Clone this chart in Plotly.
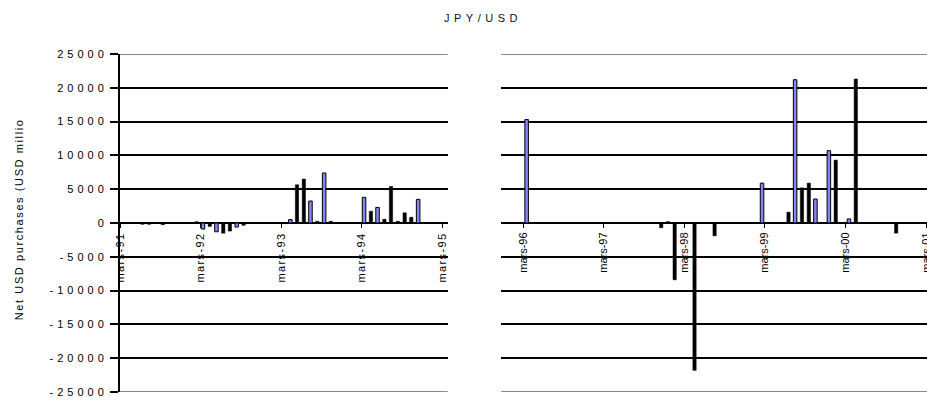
import plotly.graph_objects as go

# ---------------- data ----------------
# Period 1 : March 1991 - March 1995 (monthly net USD purchases, USD millions)
p1_months = ["1991-06", "1991-07", "1991-09", "1992-02", "1992-03", "1992-04",
             "1992-05", "1992-06", "1992-07", "1992-08", "1992-09",
             "1993-04", "1993-05", "1993-06", "1993-07", "1993-08", "1993-09", "1993-10",
             "1994-03", "1994-04", "1994-05", "1994-06", "1994-07", "1994-08",
             "1994-09", "1994-10", "1994-11"]
p1_values = [-200, -200, -250, 200, -900, -500,
             -1300, -1500, -1200, -600, -350,
             500, 5650, 6500, 3250, 250, 7400, 250,
             3800, 1750, 2300, 550, 5400, 250,
             1500, 850, 3500]
p1_kind = ["B", "B", "B", "B", "A", "B",
           "A", "B", "B", "A", "B",
           "A", "B", "B", "A", "B", "A", "B",
           "A", "B", "A", "B", "B", "B",
           "B", "B", "A"]

# Period 2 : March 1996 - March 2001
p2_months = ["1996-03", "1997-11", "1997-12", "1998-01", "1998-04", "1998-07",
             "1999-02", "1999-06", "1999-07", "1999-08", "1999-09", "1999-10",
             "1999-12", "2000-01", "2000-03", "2000-04", "2000-10"]
p2_values = [15300, -700, 200, -8400, -21800, -1900,
             5900, 1600, 21200, 5200, 5900, 3550,
             10700, 9300, 600, 21300, -1500]
p2_kind = ["A", "B", "B", "B", "B", "B",
           "A", "B", "A", "B", "B", "A",
           "A", "B", "A", "B", "B"]

p1_tick_dates = ["1991-03-01", "1992-03-01", "1993-03-01", "1994-03-01", "1995-03-01"]
p1_tick_labels = ["mars-91", "mars-92", "mars-93", "mars-94", "mars-95"]
p2_tick_dates = ["1996-03-01", "1997-03-01", "1998-03-01", "1999-03-01", "2000-03-01", "2001-03-01"]
p2_tick_labels = ["mars-96", "mars-97", "mars-98", "mars-99", "mars-00", "mars-01"]

y_ticks = [25000, 20000, 15000, 10000, 5000, 0, -5000, -10000, -15000, -20000, -25000]
y_tick_labels = [str(v) for v in y_ticks]

title_text = "JPY/USD"
y_title_text = "Net USD purchases (USD millio"

# ---------------- styling ----------------
DAY = 86400000.0
MONTH = 30.44 * DAY
BLUE = "#8585f6"
FONT = "Liberation Sans, Arial, sans-serif"

W_A = 16.0 * DAY
W_B = 15.0 * DAY

fig = go.Figure()


def add_period(months, values, kinds, xa, ya, center_frac):
    for kind in ("A", "B"):
        xs = [m + "-01" for m, k in zip(months, kinds) if k == kind]
        ys = [v for v, k in zip(values, kinds) if k == kind]
        w = W_A if kind == "A" else W_B
        fig.add_trace(go.Bar(
            x=xs, y=ys, xaxis=xa, yaxis=ya,
            width=[w] * len(xs),
            offset=center_frac * MONTH - w / 2,
            marker=dict(color=BLUE if kind == "A" else "black",
                        line=dict(color="black", width=1 if kind == "A" else 0.5)),
            showlegend=False, hoverinfo="x+y",
        ))


add_period(p1_months, p1_values, p1_kind, "x", "y", 0.33)
add_period(p2_months, p2_values, p2_kind, "x2", "y2", 0.5)

y_dom = [11 / 403, 1 - 54 / 403]
x_pos = (y_dom[0] + y_dom[1]) / 2

common_x = dict(
    type="date", anchor="free", position=x_pos, automargin=False,
    showgrid=False, zeroline=False, showline=False,
    ticks="outside", ticklen=4, tickwidth=1, tickcolor="black",
    ticklabeloverflow="allow",
    tickangle=-90, tickfont=dict(family=FONT, size=11, color="black"),
)
common_y = dict(
    range=[-25000, 25000], tickvals=y_ticks, ticktext=y_tick_labels,
    automargin=False,
    showgrid=True, gridcolor="black", gridwidth=1.5,
    zeroline=False, domain=y_dom,
)

fig.update_layout(
    width=927, height=403,
    margin=dict(l=0, r=0, t=0, b=0, autoexpand=False),
    paper_bgcolor="white", plot_bgcolor="white",
    barmode="overlay",
    font=dict(family=FONT, size=11, color="black"),
    title=dict(text=title_text, x=483 / 927, xanchor="center",
               y=1 - 18 / 403, yanchor="middle", automargin=False,
               font=dict(family=FONT, size=11, color="#111111")),
    xaxis=dict(common_x, domain=[120 / 927, 447.7 / 927],
               range=["1991-03-01", "1995-03-25"],
               tickvals=p1_tick_dates, ticktext=p1_tick_labels),
    xaxis2=dict(common_x, domain=[501 / 927, 1.0],
                range=["1995-11-21", "2001-03-05"],
                tickvals=p2_tick_dates, ticktext=p2_tick_labels),
    yaxis=dict(common_y, anchor="x",
               showline=True, linecolor="black", linewidth=2,
               ticks="outside", ticklen=8, tickwidth=1.5, tickcolor="black",
               tickfont=dict(family=FONT, size=11, color="black")),
    yaxis2=dict(common_y, anchor="x2", showline=False,
                showticklabels=False, ticks=""),
    annotations=[dict(text=y_title_text, textangle=-90,
                      x=19 / 927, y=1 - 220 / 403, xref="paper", yref="paper",
                      xanchor="center", yanchor="middle", showarrow=False,
                      font=dict(family=FONT, size=11, color="black"))],
)

# grey top / bottom plot-area borders
for xr, yr in (("x domain", "y"), ("x2 domain", "y2")):
    for yv in (25000, -25000):
        fig.add_shape(type="line", xref=xr, yref=yr, x0=0, x1=1, y0=yv, y1=yv,
                      line=dict(color="#8a8a8a", width=2), layer="above")

post = """
document.body.style.margin='0';
document.body.style.overflow='hidden';
var s=document.createElement('style');
s.textContent='.ytick text{letter-spacing:4px}.gtitle{letter-spacing:4.5px}'+
 '.xtick text{letter-spacing:1.4px}.annotation-text{letter-spacing:1.6px}';
document.head.appendChild(s);
"""

fig.write_html("out.html", post_script=post, config={"displayModeBar": False})
